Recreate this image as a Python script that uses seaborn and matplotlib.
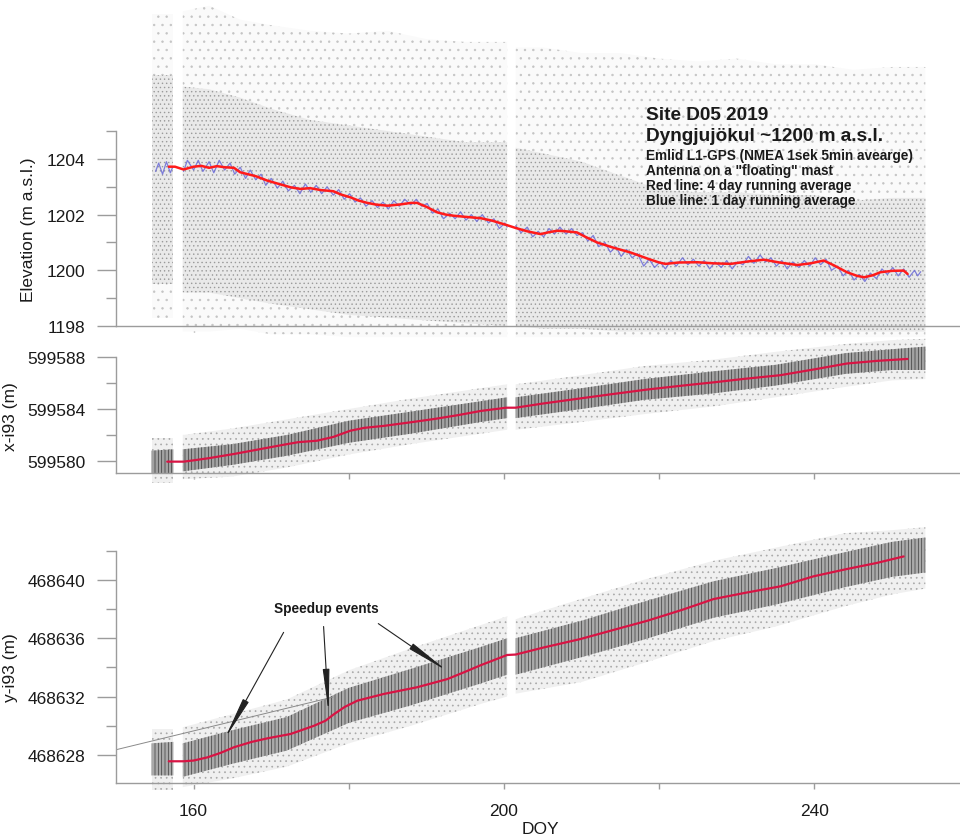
import numpy as np
import pandas as pd
import matplotlib
matplotlib.use("Agg")
import matplotlib.pyplot as plt
import seaborn as sns

sns.set_theme(style="white")
plt.rcParams["font.family"] = ["Liberation Sans", "DejaVu Sans"]
plt.rcParams["hatch.linewidth"] = 0.5

nan = np.nan

# ---------------- data ----------------
# Elevation: 4-day running average (red)
elev_red_doy = [156.8, 157.6, 158.7, 160.0, 161.0, 162.0, 163.0, 164.0, 165.2, 166.0, 167.0, 168.0,
                169.5, 171.0, 172.5, 173.8, 175.0, 176.4, 178.0, 179.0, 180.2, 181.3, 182.4, 183.5,
                185.0, 186.5, 188.0, 188.8, 190.0, 191.4, 192.5, 193.5, 195.0, 197.0, 198.5, 200.4,
                201.5, 203.0, 204.7, 206.0, 206.9, 208.0, 209.4, 210.5, 212.0, 214.0, 216.3, 218.5,
                220.0, 220.8, 222.5, 224.9, 227.0, 229.2, 231.5, 233.5, 235.5, 237.8, 239.5, 241.2,
                242.5, 244.2, 245.5, 246.4, 247.5, 248.5, 250.0, 251.5, 252.0]
elev_red = [1203.72, 1203.72, 1203.62, 1203.72, 1203.75, 1203.68, 1203.74, 1203.70, 1203.68, 1203.52,
            1203.45, 1203.38, 1203.22, 1203.10, 1202.98, 1202.92, 1202.95, 1202.88, 1202.84, 1202.72,
            1202.62, 1202.50, 1202.42, 1202.36, 1202.32, 1202.36, 1202.42, 1202.42, 1202.28, 1202.08,
            1202.00, 1201.96, 1201.92, 1201.87, 1201.78, 1201.62, 1201.52, 1201.40, 1201.30, 1201.38,
            1201.42, 1201.40, 1201.36, 1201.20, 1201.00, 1200.82, 1200.64, 1200.42, 1200.28, 1200.23,
            1200.28, 1200.29, 1200.25, 1200.23, 1200.32, 1200.38, 1200.28, 1200.19, 1200.25, 1200.35,
            1200.18, 1199.93, 1199.80, 1199.75, 1199.82, 1199.93, 1199.98, 1199.99, 1199.87]

# Elevation: 1-day running average (blue), three recorded segments
elev_blue_seg = [1] * 6 + [2] * 61 + [3] * 75
elev_blue_doy = [155.1, 155.5, 156.0, 156.5, 157.0, 157.3,
                 158.7, 159.2, 160.0, 160.6, 161.2, 162.0, 162.6, 163.3, 164.0, 164.7, 165.3, 166.0,
                 166.7, 167.3, 168.0, 168.7, 169.3, 170.0, 170.8, 171.5, 172.2, 173.0, 173.7, 174.4,
                 175.1, 175.8, 176.5, 177.2, 178.0, 178.7, 179.4, 180.1, 180.8, 181.5, 182.2, 183.0,
                 183.7, 184.4, 185.1, 185.8, 186.5, 187.2, 188.0, 188.7, 189.4, 190.1, 190.8, 191.5,
                 192.2, 193.0, 193.7, 194.4, 195.1, 195.8, 196.5, 197.2, 198.0, 198.7, 199.4, 200.1, 200.4,
                 201.5, 202.2, 203.0, 203.7, 204.4, 205.1, 205.8, 206.5, 207.2, 208.0, 208.7, 209.4,
                 210.1, 210.8, 211.5, 212.2, 213.0, 213.7, 214.4, 215.1, 215.8, 216.5, 217.2, 218.0,
                 218.7, 219.4, 220.1, 220.8, 221.5, 222.2, 223.0, 223.7, 224.4, 225.1, 225.8, 226.5,
                 227.2, 228.0, 228.7, 229.4, 230.1, 230.8, 231.5, 232.2, 233.0, 233.7, 234.4, 235.1,
                 235.8, 236.5, 237.2, 238.0, 238.7, 239.4, 240.1, 240.8, 241.5, 242.2, 243.0, 243.7,
                 244.4, 245.1, 245.8, 246.5, 247.2, 248.0, 248.7, 249.4, 250.1, 250.8, 251.5, 252.2,
                 252.9, 253.3, 253.7]
elev_blue = [1203.55, 1203.85, 1203.45, 1203.90, 1203.50, 1203.70,
             1203.55, 1203.95, 1203.60, 1203.95, 1203.55, 1203.90, 1203.50, 1203.95, 1203.60, 1203.85,
             1203.45, 1203.70, 1203.30, 1203.60, 1203.25, 1203.45, 1203.05, 1203.30, 1202.95, 1203.20,
             1202.85, 1203.05, 1202.75, 1203.10, 1202.80, 1203.05, 1202.75, 1203.00, 1202.70, 1202.90,
             1202.55, 1202.75, 1202.45, 1202.60, 1202.30, 1202.50, 1202.25, 1202.45, 1202.20, 1202.50,
             1202.30, 1202.55, 1202.35, 1202.55, 1202.30, 1202.40, 1202.05, 1202.20, 1201.85, 1202.05,
             1201.85, 1202.10, 1201.80, 1202.00, 1201.75, 1202.00, 1201.70, 1201.85, 1201.50, 1201.70,
             1201.55,
             1201.60, 1201.35, 1201.55, 1201.20, 1201.40, 1201.20, 1201.50, 1201.30, 1201.55, 1201.30,
             1201.50, 1201.25, 1201.35, 1201.05, 1201.25, 1200.85, 1201.00, 1200.65, 1200.85, 1200.50,
             1200.75, 1200.45, 1200.60, 1200.15, 1200.40, 1200.10, 1200.30, 1200.05, 1200.35, 1200.15,
             1200.45, 1200.20, 1200.40, 1200.15, 1200.35, 1200.05, 1200.30, 1200.10, 1200.35, 1200.05,
             1200.30, 1200.20, 1200.50, 1200.25, 1200.55, 1200.30, 1200.45, 1200.15, 1200.35, 1200.05,
             1200.30, 1200.10, 1200.35, 1200.15, 1200.45, 1200.20, 1200.40, 1200.00, 1200.15, 1199.80,
             1200.00, 1199.65, 1199.85, 1199.60, 1199.90, 1199.70, 1200.05, 1199.85, 1200.10, 1199.80,
             1200.05, 1199.75, 1200.00, 1199.80, 1199.95]

# x-i93: 4-day running average
x_red_doy = [156.6, 158.7, 160.0, 162.0, 165.2, 168.0, 171.6, 173.5, 175.9, 178.0, 180.2, 182.0, 184.5,
             188.0, 191.0, 194.0, 197.0, 200.3, 201.5, 205.0, 209.9, 214.0, 218.5, 223.0, 227.0, 231.0,
             235.6, 240.0, 244.2, 248.0, 252.0]
x_red = [599579.95, 599579.95, 599580.05, 599580.22, 599580.54, 599580.85, 599581.25, 599581.45,
         599581.56, 599581.85, 599582.33, 599582.55, 599582.70, 599582.98, 599583.23, 599583.52,
         599583.85, 599584.10, 599584.10, 599584.42, 599584.82, 599585.15, 599585.50, 599585.80,
         599586.05, 599586.32, 599586.60, 599587.05, 599587.50, 599587.70, 599587.85]

# y-i93: 4-day running average
y_red_doy = [156.8, 158.7, 160.0, 161.8, 163.5, 165.2, 167.5, 169.5, 172.5, 175.5, 177.0, 178.1, 179.5,
             181.1, 184.5, 188.8, 192.7, 195.0, 197.0, 200.4, 201.5, 205.0, 209.9, 214.0, 218.5, 223.0,
             227.0, 231.0, 235.6, 239.9, 244.2, 248.0, 251.5]
y_red = [468627.57, 468627.57, 468627.62, 468627.84, 468628.15, 468628.53, 468628.90, 468629.14,
         468629.44, 468630.00, 468630.35, 468630.80, 468631.30, 468631.72, 468632.18, 468632.64,
         468633.20, 468633.70, 468634.15, 468634.85, 468634.88, 468635.35, 468635.95, 468636.55,
         468637.20, 468637.95, 468638.68, 468639.10, 468639.55, 468640.24, 468640.74, 468641.15,
         468641.60]

# Raw 5-min samples: extent of the point clouds (NaN = data gap)
top_env_doy = [154.6, 157.4, 158.0, 158.6, 162, 166, 170, 175, 180, 185, 190, 195, 200.4, 201.0, 201.5,
               205, 210, 215, 220, 225, 230, 235, 240, 245, 250, 254.3]
top_outer_lo = [1198.3, 1198.3, nan, 1197.8, 1197.8, 1197.9, 1197.7, 1197.7, 1197.6, 1197.6, 1197.6,
                1197.6, 1197.6, nan, 1197.6, 1197.6, 1197.6, 1197.6, 1197.6, 1197.6, 1197.6, 1197.6,
                1197.6, 1197.6, 1197.6, 1197.6]
top_outer_hi = [1209.2, 1209.2, nan, 1209.3, 1209.5, 1209.0, 1208.8, 1208.6, 1208.5, 1208.6, 1208.3,
                1208.2, 1208.2, nan, 1208.0, 1208.0, 1207.8, 1207.8, 1207.6, 1207.5, 1207.6, 1207.4,
                1207.4, 1207.2, 1207.3, 1207.3]
top_inner_lo = [1199.5, 1199.5, nan, 1199.2, 1199.2, 1199.0, 1198.8, 1198.6, 1198.4, 1198.3, 1198.2,
                1198.1, 1198.0, nan, 1198.0, 1197.9, 1197.9, 1197.8, 1197.8, 1197.8, 1197.8, 1197.8,
                1197.8, 1197.8, 1197.8, 1197.8]
top_inner_hi = [1207.0, 1207.0, nan, 1206.6, 1206.5, 1206.2, 1205.8, 1205.4, 1205.2, 1205.0, 1204.8,
                1204.6, 1204.6, nan, 1204.4, 1204.2, 1203.9, 1203.4, 1202.9, 1202.8, 1202.8, 1202.7,
                1202.7, 1202.5, 1202.6, 1202.6]

env_doy = [154.6, 157.4, 158.0, 158.6, 165, 172, 180, 188, 197, 200.4, 201.0, 201.5, 210, 218, 227, 235,
           244, 250, 254.3]
x_inner_lo = [599579.0, 599579.0, nan, 599579.2, 599579.7, 599580.4, 599581.4, 599582.1, 599583.0,
              599583.3, nan, 599583.3, 599584.0, 599584.7, 599585.2, 599585.8, 599586.7, 599587.0, 599587.0]
x_inner_hi = [599580.8, 599580.9, nan, 599580.9, 599581.3, 599582.0, 599583.1, 599583.8, 599584.6,
              599584.9, nan, 599584.9, 599585.6, 599586.3, 599586.9, 599587.4, 599588.3, 599588.6, 599588.8]
x_outer_lo = [599578.3, 599578.3, nan, 599578.6, 599578.8, 599579.5, 599580.5, 599581.3, 599582.1,
              599582.4, nan, 599582.4, 599583.0, 599583.6, 599584.2, 599584.9, 599585.7, 599586.2, 599586.3]
x_outer_hi = [599581.8, 599581.8, nan, 599582.0, 599582.5, 599583.2, 599584.0, 599584.8, 599585.6,
              599585.9, nan, 599585.9, 599586.6, 599587.3, 599587.8, 599588.4, 599589.0, 599589.3, 599589.4]
y_inner_lo = [468626.6, 468626.6, nan, 468626.5, 468627.4, 468628.3, 468630.2, 468631.4, 468632.9,
              468633.5, nan, 468633.5, 468634.7, 468635.9, 468637.4, 468638.3, 468639.5, 468640.2, 468640.5]
y_inner_hi = [468628.8, 468628.9, nan, 468628.8, 468629.7, 468630.6, 468632.6, 468633.9, 468635.4,
              468636.0, nan, 468636.0, 468637.2, 468638.5, 468639.9, 468640.8, 468641.9, 468642.6, 468642.9]
y_outer_lo = [468625.6, 468625.6, nan, 468625.8, 468626.4, 468627.2, 468628.8, 468630.0, 468631.5,
              468632.0, nan, 468632.2, 468633.0, 468634.3, 468635.8, 468636.8, 468638.2, 468639.0, 468639.4]
y_outer_hi = [468629.8, 468629.8, nan, 468629.9, 468630.8, 468631.8, 468633.8, 468635.3, 468636.9,
              468637.5, nan, 468637.3, 468638.7, 468640.0, 468641.3, 468642.2, 468643.2, 468643.4, 468643.6]

# tangent line and annotation
trend_doy = [150.0, 177.96]
trend_y = [468628.36, 468631.97]
speedup_text_pos = (177.1, 468638.1)
speedup_starts = [(171.6, 468636.4), (176.75, 468636.8), (183.8, 468637.0)]
speedup_ends = [(164.0, 468629.1), (177.4, 468630.9), (192.7, 468633.75)]

info_lines = ["Site D05 2019", "Dyngjujökul ~1200 m a.s.l.",
              "Emlid L1-GPS (NMEA 1sek 5min avearge)", "Antenna on a \"floating\" mast",
              "Red line: 4 day running average", "Blue line: 1 day running average"]

# ---------------- figure ----------------
W, H = 960, 837
fig = plt.figure(figsize=(W / 100, H / 100), dpi=100)
fig.patch.set_facecolor("white")

L = 116 / W
ax1 = fig.add_axes([L, 1 - 327 / H, 1 - L, 327 / H])
ax2 = fig.add_axes([L, 1 - 474.3 / H, 1 - L, 147.3 / H])
ax3 = fig.add_axes([L, 1 - 784.3 / H, 1 - L, 310 / H])

XL = (150, 258.76)
SP = "#9c9c9c"

def cloud(ax, xs, olo, ohi, ilo, ihi, ocol, ohatch, ohc, icol, ihatch, ihc):
    ax.fill_between(xs, olo, ohi, facecolor=ocol, edgecolor=ohc, hatch=ohatch,
                    linewidth=0, clip_on=False, zorder=1)
    ax.fill_between(xs, ilo, ihi, facecolor=icol, edgecolor=ihc, hatch=ihatch,
                    linewidth=0, clip_on=False, zorder=2)

cloud(ax1, top_env_doy, top_outer_lo, top_outer_hi, top_inner_lo, top_inner_hi,
      "#fafafa", "..", "#c4c4c4", "#e9e9e9", "....", "#9a9a9a")
cloud(ax2, env_doy, x_outer_lo, x_outer_hi, x_inner_lo, x_inner_hi,
      "#f0f0f0", "...", "#a8a8a8", "#a2a2a2", "|||||", "#3a3a3a")
cloud(ax3, env_doy, y_outer_lo, y_outer_hi, y_inner_lo, y_inner_hi,
      "#f0f0f0", "...", "#a8a8a8", "#aaaaaa", "|||||", "#3e3e3e")

blue_df = pd.DataFrame({"doy": elev_blue_doy, "v": elev_blue, "seg": elev_blue_seg})
sns.lineplot(data=blue_df, x="doy", y="v", units="seg", estimator=None, sort=False,
             color="#6a6ad8", lw=0.9, alpha=0.85, ax=ax1, zorder=4)
sns.lineplot(x=elev_red_doy, y=elev_red, color="#ff1a1a", lw=1.8, ax=ax1, zorder=5, sort=False)
sns.lineplot(x=x_red_doy, y=x_red, color="#d81444", lw=1.6, ax=ax2, zorder=5, sort=False)
sns.lineplot(x=y_red_doy, y=y_red, color="#d81444", lw=1.6, ax=ax3, zorder=5, sort=False)

ax3.plot(trend_doy, trend_y, color="#8a8a8a", lw=0.7, zorder=3)

# axes styling
cfg = [
    (ax1, (1198, 1198 + 327 / 27.85), (1198, 1205), [1198, 1200, 1202, 1204], [1199, 1201, 1203, 1205]),
    (ax2, (599580 - 12.3 / 13, 599580 + 135 / 13), (599580 - 12.3 / 13, 599588),
     [599580, 599584, 599588], [599582, 599586]),
    (ax3, (468628 - 28.3 / 14.6, 468628 + 281.7 / 14.6), (468628 - 28.3 / 14.6, 468642),
     [468628, 468632, 468636, 468640], [468630, 468634, 468638, 468642]),
]
for ax, yl, bnd, maj, mnr in cfg:
    ax.set_facecolor("none")
    ax.set_xlim(*XL)
    ax.set_ylim(*yl)
    for s in ["top", "right"]:
        ax.spines[s].set_visible(False)
    for s in ["left", "bottom"]:
        ax.spines[s].set_color(SP)
        ax.spines[s].set_linewidth(1.0)
        ax.spines[s].set_zorder(6)
    ax.spines["left"].set_bounds(*bnd)
    ax.set_yticks(maj)
    ax.set_yticks(mnr, minor=True)
    ax.set_yticklabels([str(v) for v in maj])
    ax.set_xticks([160, 200, 240])
    ax.set_xticks([180, 220], minor=True)
    ax.tick_params(axis="y", which="major", length=14, width=1, color=SP, pad=8,
                   labelsize=12.5, labelcolor="#1a1a1a", left=True)
    ax.tick_params(axis="y", which="minor", length=7, width=1, color=SP, left=True)
    ax.tick_params(axis="x", which="both", length=4, width=1, color=SP, bottom=True,
                   labelsize=12.5, labelcolor="#1a1a1a", pad=10)
    ax.set_xlabel("")
    ax.set_ylabel("")
    ax.grid(False)

ax1.tick_params(axis="x", labelbottom=False)
ax2.tick_params(axis="x", labelbottom=False)

ax1.set_ylabel("Elevation (m a.s.l.)", fontsize=12.5, color="#1a1a1a")
ax1.yaxis.set_label_coords((36 - 116) / 844, 0.297)
ax2.set_ylabel("x-i93 (m)", fontsize=12.5, color="#1a1a1a")
ax2.yaxis.set_label_coords((18 - 116) / 844, 0.391)
ax3.set_ylabel("y-i93 (m)", fontsize=12.5, color="#1a1a1a")
ax3.yaxis.set_label_coords((18 - 116) / 844, 0.375)
ax3.set_xlabel("DOY", fontsize=12.5, color="#1a1a1a")
ax3.xaxis.set_label_coords((540 - 116) / 844, (784.3 - 822) / 310)

# annotations
ax3.text(*speedup_text_pos, "Speedup events", ha="center", va="center", fontsize=9.8,
         fontweight="bold", color="#1a1a1a", zorder=7)
for st, en in zip(speedup_starts, speedup_ends):
    ax3.annotate("", xy=en, xytext=st,
                 arrowprops=dict(arrowstyle="-|>,head_length=2.6,head_width=0.2",
                                 mutation_scale=10, lw=0.8, color="#222222",
                                 shrinkA=0, shrinkB=0), zorder=7)

ys = [116, 137, 156, 171, 185.7, 201.3]
sizes = [13.7, 13.7, 9.85, 9.85, 9.85, 9.85]
for t, yp, fs in zip(info_lines, ys, sizes):
    fig.text(645.7 / W, 1 - yp / H, t, ha="left", va="center", fontsize=fs,
             fontweight="bold", color="#1a1a1a")

fig.savefig("out.png", dpi=100, facecolor="white")
